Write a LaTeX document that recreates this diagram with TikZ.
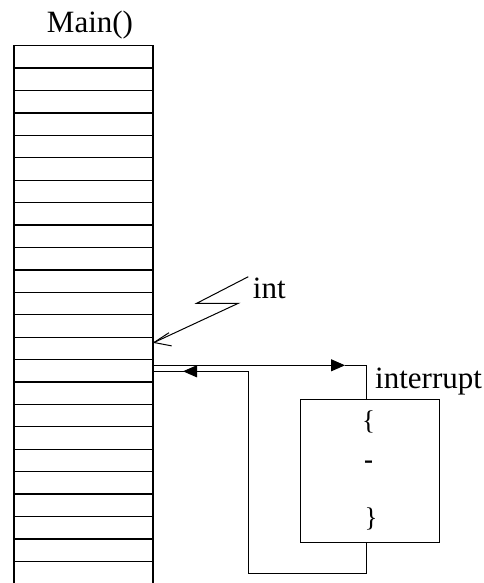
\documentclass[tikz,border=0pt]{standalone}
\usepackage{fontspec}
\setmainfont{Liberation Serif}
\usetikzlibrary{arrows.meta}
\begin{document}
\begin{tikzpicture}[x=1pt,y=-1pt,
  frame/.style={line width=1.3pt},
  wire/.style={line width=1pt, line join=miter},
  flow/.style={line width=1pt,-{Triangle[length=14pt,width=12pt]}},
  lbl/.style={font=\fontsize{31}{35}\selectfont, inner sep=0pt, anchor=base west},
  code/.style={font=\fontsize{27}{31}\selectfont, inner sep=0pt}]
\useasboundingbox (0,0) rectangle (484,583);

% call stack of Main()
\node[minimum width=138.7pt, minimum height=545pt, inner sep=0pt, anchor=north west] (stack) at (14,45.7) {};
\draw[frame] (stack.south west) -- (stack.north west) -- (stack.north east) -- (stack.south east);
\foreach \k in {1,...,23}
  \draw[frame] (14,45.7+22.42*\k) -- (152.7,45.7+22.42*\k);
\node[lbl, anchor=base] (main) at (90,32.3) {Main()};

% interrupt service routine
\node[draw, frame, minimum width=138.6pt, minimum height=143.4pt, inner sep=0pt] (isr) at (370,471) {};
\node[code] (open) at (368.5,422) {\{};
\node[code] (dash) at (368.5,465) {\textbf{-}};
\node[code] (close) at (371,519) {\}};
\node[lbl] (intr) at (375,388) {interrupt};

% interrupt signal
\node[lbl] (sig) at (252.7,298.3) {int};
\coordinate (z1) at (248.3,276.7);
\coordinate (z2) at (196.7,303.3);
\coordinate (z3) at (238.3,303.3);
\coordinate (hit) at (154,342.5);
\coordinate (barbU) at (169,332.7);
\coordinate (barbL) at (171.7,345.9);
\draw[wire] (z1) -- (z2) -- (z3) -- (hit);
\draw[wire] (barbU) -- (hit) -- (barbL);

% call into the routine
\coordinate (callout) at (stack.east |- 0,365.3);
\coordinate (calltip) at (345,365.3);
\coordinate (callturn) at (366.7,365.3);
\draw[flow] (callout) -- (calltip);
\draw[wire] (calltip) -- (callturn) -- (callturn |- isr.north);

% return to Main()
\coordinate (retdown) at (366.7,573.3);
\coordinate (retleft) at (248.3,573.3);
\coordinate (retup) at (248.3,371.3);
\coordinate (retin) at (stack.east |- 0,371.3);
\coordinate (rettip) at (183,371.3);
\draw[wire] (callturn |- isr.south) -- (retdown) -- (retleft) -- (retup) -- (retin);
\draw[flow] (200,371.3) -- (rettip);
\end{tikzpicture}
\end{document}
